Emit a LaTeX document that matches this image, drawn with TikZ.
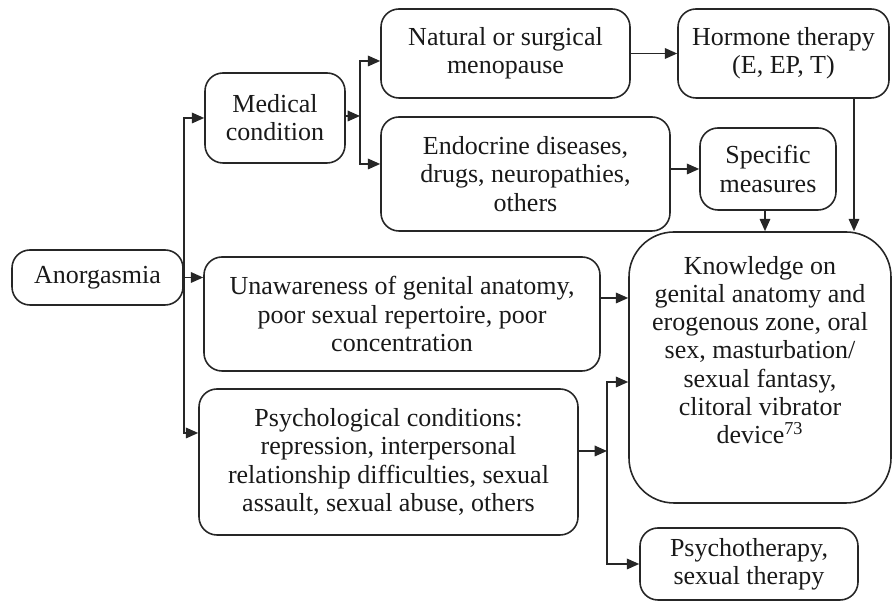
\documentclass[tikz,border=0pt]{standalone}
\usepackage{fontspec}
\setmainfont{Liberation Serif}
\usepackage{tikz}
\usetikzlibrary{arrows.meta}

\begin{document}
\begin{tikzpicture}[
    box/.style={draw=black!85, line width=0.9pt, rounded corners=0.36cm, align=center,
        inner sep=0pt, text=black!90, font=\fontsize{14.8}{16}\selectfont},
    arr/.style={draw=black!85, line width=0.9pt, -{Triangle[length=7pt,width=6pt]}}]
    	\useasboundingbox (0, 0) rectangle (17.86, 12.16);
    	% Boxes:
    	\node[box, minimum width=3.42cm, minimum height=1.1cm] (anorg) at (1.95, 6.61) {Anorgasmia};
    	\node[box, minimum width=2.8cm, minimum height=1.8cm] (medical) at (5.5, 9.8) {Medical\\condition};
    	\node[box, minimum width=4.98cm, minimum height=1.78cm] (natural) at (10.11, 11.09) {Natural or surgical\\menopause};
    	\node[box, minimum width=5.78cm, minimum height=2.28cm] (endocrine) at (10.51, 8.68) {Endocrine diseases,\\drugs, neuropathies,\\others};
    	\node[box, minimum width=4.22cm, minimum height=1.78cm] (hormone) at (15.67, 11.09) {Hormone therapy\\(E, EP, T)};
    	\node[box, minimum width=2.72cm, minimum height=1.64cm] (specific) at (15.36, 8.78) {Specific\\measures};
    	\node[box, rounded corners=0.9cm, minimum width=5.24cm, minimum height=5.42cm] (knowledge) at (15.2, 4.81)
    	    {Knowledge on\\genital anatomy and\\erogenous zone, oral\\sex, masturbation/\\sexual fantasy,\\clitoral vibrator\\device\textsuperscript{73}\\[4pt]};
    	\node[box, minimum width=7.92cm, minimum height=2.28cm] (unaware) at (8.04, 5.88) {Unawareness of genital anatomy,\\poor sexual repertoire, poor\\concentration};
    	\node[box, minimum width=7.58cm, minimum height=2.92cm] (psych) at (7.77, 2.92) {Psychological conditions:\\repression, interpersonal\\relationship difficulties, sexual\\assault, sexual abuse, others};
    	\node[box, minimum width=4.36cm, minimum height=1.44cm] (psychoth) at (14.98, 0.88) {Psychotherapy,\\sexual therapy};
    	% Branch points:
    	\coordinate (mb) at (7.2, 9.84);
    	\coordinate (pb) at (12.14, 3.14);
    	% Arrows:
    	\draw[arr] (anorg.east) |- (medical.west);
    	\draw[arr] (anorg.east) -- (anorg.east -| unaware.west);
    	\draw[arr] (anorg.east) |- ([yshift=0.58cm]psych.west);
    	\draw[arr] (medical.east |- mb) -- (mb);
    	\draw[arr] (mb) |- ([yshift=-0.15cm]natural.west);
    	\draw[arr] (mb) |- ([yshift=0.2cm]endocrine.west);
    	\draw[arr] (natural.east) -- (hormone.west);
    	\draw[arr] (specific.west -| endocrine.east) -- (specific.west);
    	\draw[arr] ([xshift=-0.06cm]specific.south) -- ([xshift=-0.06cm]specific.south |- knowledge.north);
    	\draw[arr] ([xshift=1.41cm]hormone.south) -- ([xshift=1.41cm]hormone.south |- knowledge.north);
    	\draw[arr] ([yshift=0.32cm]unaware.east) -- ([yshift=0.32cm]unaware.east -| knowledge.west);
    	\draw[arr] (psych.east |- pb) -- (pb);
    	\draw[arr] (pb) |- ([yshift=-0.29cm]knowledge.west);
    	\draw[arr] (pb) |- (psychoth.west);
    \end{tikzpicture}
\end{document}
